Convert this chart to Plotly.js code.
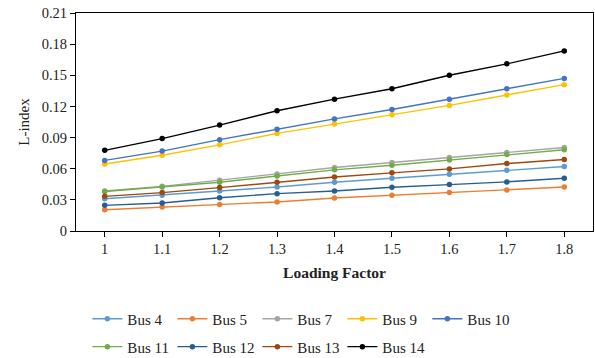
<!DOCTYPE html>
<html>
<head>
<meta charset="utf-8">
<script src="https://cdn.plot.ly/plotly-3.0.1.min.js"></script>
<style>
  html, body { margin: 0; padding: 0; background: #ffffff; }
  #chart { width: 595px; height: 358px; }
</style>
</head>
<body>
<div id="chart"></div>
<script>
// Loading factor categories
var loadingFactor = [1, 1.1, 1.2, 1.3, 1.4, 1.5, 1.6, 1.7, 1.8];
var xTickLabels = ["1", "1.1", "1.2", "1.3", "1.4", "1.5", "1.6", "1.7", "1.8"];
var yTickVals = [0, 0.03, 0.06, 0.09, 0.12, 0.15, 0.18, 0.21];
var yTickLabels = ["0", "0.03", "0.06", "0.09", "0.12", "0.15", "0.18", "0.21"];

// L-index values per bus
var bus4  = [0.031, 0.0345, 0.0385, 0.0424, 0.047, 0.0508, 0.0547, 0.0585, 0.0621];
var bus5  = [0.0205, 0.023, 0.0256, 0.028, 0.0318, 0.0344, 0.037, 0.0395, 0.0424];
var bus7  = [0.0385, 0.043, 0.049, 0.055, 0.0611, 0.066, 0.0708, 0.0756, 0.0805];
var bus9  = [0.0645, 0.073, 0.083, 0.094, 0.103, 0.112, 0.121, 0.131, 0.141];
var bus10 = [0.068, 0.077, 0.088, 0.098, 0.108, 0.117, 0.127, 0.137, 0.147];
var bus11 = [0.038, 0.0424, 0.047, 0.053, 0.0589, 0.0634, 0.0685, 0.0737, 0.0782];
var bus12 = [0.0247, 0.027, 0.032, 0.036, 0.0385, 0.0421, 0.0447, 0.0473, 0.0508];
var bus13 = [0.0334, 0.037, 0.0418, 0.047, 0.052, 0.056, 0.0598, 0.065, 0.0689];
var bus14 = [0.0777, 0.089, 0.102, 0.1158, 0.127, 0.137, 0.15, 0.161, 0.1735];

var seriesNames = ["Bus 4", "Bus 5", "Bus 7", "Bus 9", "Bus 10", "Bus 11", "Bus 12", "Bus 13", "Bus 14"];
var seriesValues = [bus4, bus5, bus7, bus9, bus10, bus11, bus12, bus13, bus14];
var seriesColors = ["#5B9BD5", "#ED7D31", "#A5A5A5", "#FFC000", "#4472C4", "#70AD47", "#255E91", "#9E480E", "#000000"];
var seriesLegend = ["legend", "legend", "legend", "legend", "legend", "legend2", "legend2", "legend2", "legend2"];

var traces = seriesNames.map(function (name, i) {
  return {
    type: "scatter",
    mode: "lines+markers",
    name: name,
    x: loadingFactor,
    y: seriesValues[i],
    legend: seriesLegend[i],
    line: { color: seriesColors[i], width: 1.4 },
    marker: { color: seriesColors[i], size: 5.5, symbol: "circle" },
    hoverinfo: "skip"
  };
});

var serif = "Liberation Serif, Times New Roman, serif";
var legendCommon = {
  orientation: "h",
  xref: "paper",
  yref: "container",
  xanchor: "left",
  yanchor: "middle",
  x: 0.022,
  bgcolor: "rgba(0,0,0,0)",
  borderwidth: 0,
  entrywidth: 40,
  entrywidthmode: "pixels",
  font: { family: serif, size: 15, color: "#222222" },
  itemclick: false,
  itemdoubleclick: false
};

var layout = {
  width: 595,
  height: 358,
  margin: { l: 75.5, r: 2, t: 13, b: 126.5 },
  paper_bgcolor: "#ffffff",
  plot_bgcolor: "#ffffff",
  font: { family: serif, size: 14.5, color: "#222222" },
  showlegend: true,
  legend: Object.assign({}, legendCommon, { y: 0.109 }),
  legend2: Object.assign({}, legendCommon, { y: 0.031 }),
  xaxis: {
    range: [0.95, 1.85],
    tickvals: loadingFactor,
    ticktext: xTickLabels,
    ticks: "outside",
    ticklen: 5,
    tickcolor: "#000000",
    tickwidth: 1,
    showline: true,
    linecolor: "#000000",
    linewidth: 1,
    mirror: true,
    showgrid: false,
    zeroline: false,
    automargin: false,
    tickfont: { family: serif, size: 14.5, color: "#222222" },
    title: { text: "<b>Loading Factor</b>", standoff: 10, font: { family: serif, size: 15.5, color: "#222222" } }
  },
  yaxis: {
    range: [0, 0.21],
    tickvals: yTickVals,
    ticktext: yTickLabels,
    ticks: "outside",
    ticklen: 5,
    tickcolor: "#000000",
    tickwidth: 1,
    showline: true,
    linecolor: "#000000",
    linewidth: 1,
    mirror: true,
    showgrid: false,
    zeroline: false,
    automargin: false,
    tickfont: { family: serif, size: 14.5, color: "#222222" },
    title: { text: "L-index", standoff: 8, font: { family: serif, size: 15, color: "#222222" } }
  }
};

Plotly.newPlot("chart", traces, layout, { staticPlot: true, displayModeBar: false });
</script>
</body>
</html>
